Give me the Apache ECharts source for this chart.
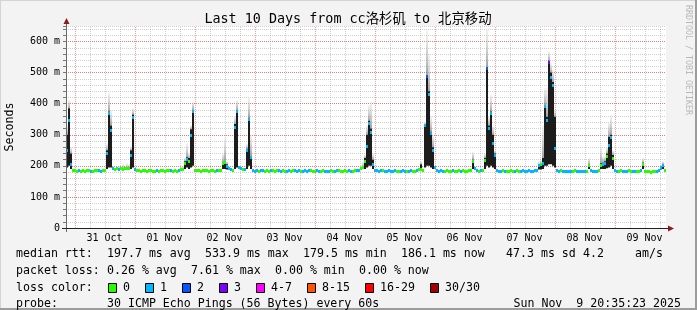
<!DOCTYPE html>
<html><head><meta charset="utf-8">
<script src="https://cdn.jsdelivr.net/npm/echarts@6/dist/echarts.min.js"></script>
<style>html,body{margin:0;padding:0;background:#f3f3f3}#c{width:697px;height:310px}</style>
</head><body><div id="c"></div>
<script>
// time axis: hours since 30 Oct 2025 00:00; window = last 10 days ending Sun Nov 9 20:35:23
const START_H = 20 + 35/60 + 23/3600;
const SPAN_H = 240;
const STEP_H = 0.8; // one sample every 48 minutes
const dayLabels = ['31 Oct','01 Nov','02 Nov','03 Nov','04 Nov','05 Nov','06 Nov','07 Nov','08 Nov','09 Nov'];
const yMax = 650;

// median rtt (ms), one value per sample
const median = [
250,348,205,188,186,185,187,184,186,185,
186,187,185,184,186,188,186,185,187,186,
240,370,316,192,191,193,190,192,191,193,
192,194,235,358,190,188,186,185,187,186,
185,186,187,185,184,186,185,187,186,185,
186,188,187,185,186,184,186,190,189,210,
222,215,300,375,188,187,186,185,186,187,
186,185,187,186,185,186,188,187,208,212,
200,192,190,188,326,376,195,192,190,191,
250,350,229,186,185,187,185,186,187,185,
186,184,186,187,185,186,187,185,186,184,
185,186,184,186,187,185,186,185,184,186,
185,187,186,184,185,186,185,184,186,185,
184,185,186,185,184,186,187,185,184,186,
185,186,184,185,187,186,188,192,197,215,
265,339,310,205,188,186,185,187,186,185,
184,186,185,184,186,185,184,185,186,184,
185,184,186,185,184,186,190,190,186,331,
489,431,305,250,195,186,185,186,184,185,
186,185,184,186,185,184,186,185,186,184,
185,186,187,215,192,186,185,187,186,219,
514,321,369,272,235,186,185,184,186,185,
184,185,186,184,185,186,184,185,186,184,
185,186,184,185,186,187,203,205,210,394,
347,535,487,460,256,186,185,186,184,185,
184,185,183,184,186,185,184,183,185,184,
185,203,186,185,184,185,186,203,205,210,
232,267,294,225,186,185,184,186,185,184,
185,186,184,185,183,184,185,186,205,185,
183,182,181,183,182,184,186,195,203,186
];
// loss colour class per sample (index into lossColors)
const loss = [
1,1,1,0,0,0,1,0,0,0, 0,0,1,0,0,0,1,1,0,0, 1,1,1,1,0,0,1,0,0,0, 0,0,1,1,1,0,0,0,0,0,
0,0,0,0,0,1,0,0,0,0, 0,0,1,0,0,0,1,0,0,0, 1,0,1,1,0,0,0,0,0,0, 0,0,0,0,0,1,0,0,0,0,
1,1,1,0,1,1,1,1,0,1, 1,1,1,1,1,1,0,1,1,0, 0,0,1,0,0,0,1,1,0,0, 1,1,0,0,1,1,1,0,1,1,
1,1,0,0,0,1,1,0,0,1, 1,1,0,0,1,1,0,0,0,0, 0,1,1,0,0,1,1,0,0,0, 1,1,1,1,1,1,1,1,0,1,
1,1,1,1,1,0,0,1,1,1, 0,1,1,0,0,1,0,0,0,1, 2,1,1,1,1,1,1,1,1,0, 0,0,0,1,0,0,0,1,0,0,
0,0,0,0,1,1,0,1,0,0, 2,1,1,1,1,1,1,1,0,1, 0,0,0,0,1,0,0,1,1,1, 1,1,1,1,1,1,1,0,1,1,
1,3,1,1,1,1,1,0,1,1, 1,1,1,0,0,1,1,1,1,1, 0,0,1,1,1,1,0,0,1,1, 0,1,1,0,1,1,0,0,1,1,
1,0,0,1,1,0,0,1,0,0, 0,0,0,0,0,1,1,1,1,0
];
// smoke: [sample index, dark low, dark high, light top] in ms
const smoke = [
[0,195,300,330],[1,200,385,412],[2,190,240,260],
[20,190,250,270],[21,195,375,435],[22,195,330,380],
[26,190,190,200],[28,192,192,205],[30,192,192,208],[31,194,194,205],
[32,190,250,262],[33,195,365,385],
[57,190,190,198],[58,189,189,200],
[59,190,215,225],[60,195,228,272],[61,190,225,240],[62,195,318,330],[63,200,380,406],
[78,190,212,240],[79,190,215,290],[80,188,205,215],
[84,190,335,360],[85,195,380,412],
[90,190,255,270],[91,200,355,418],[92,190,232,300],
[147,192,192,200],[148,190,197,212],
[149,190,225,235],[150,195,300,330],[151,200,345,395],[152,200,320,406],[153,190,220,240],
[177,188,205,215],
[179,195,331,340],[180,200,492,637],[181,200,440,560],[182,195,310,358],[183,190,260,300],
[203,190,220,245],
[209,190,225,240],[210,200,518,642],[211,195,330,360],[212,200,375,429],[213,195,300,330],[214,190,240,250],
[236,188,200,215],[237,188,205,219],[238,190,225,330],
[239,200,396,450],[240,200,358,450],[241,205,538,567],[242,205,500,530],[243,200,470,510],[244,195,358,380],
[261,190,205,225],
[267,190,208,260],[268,190,210,230],[269,190,215,230],[270,192,240,260],[271,195,294,340],[272,200,300,364],[273,190,235,250],
[288,190,210,225],
[297,188,195,205],[298,190,205,215]
];
const lossColors = ['#26ff00','#00b8ff','#0059ff','#7e00ff','#ff00ff','#ff5500','#ff0000','#a10000'];
const lossLabels = ['0','1','2','3','4-7','8-15','16-29','30/30'];
const statsRtt = ['197.7 ms avg','533.9 ms max','179.5 ms min','186.1 ms now','47.3 ms sd','4.2','am/s'];
const statsLoss = ['0.26 % avg','7.61 % max','0.00 % min','0.00 % now'];

const MONO = "'DejaVu Sans Mono', 'Noto Sans CJK SC', monospace";
const END_H = START_H + SPAN_H;
const dayNoons = dayLabels.map((d,k)=>36 + 24*k);
const vGrid = [];
for (let h = 24; h < END_H; h += 6) vGrid.push([h, h % 24 === 0 ? 1 : 0]);

const medData = median.map((v,i)=>[START_H + i*STEP_H, v, loss[i]]);
const smokeData = smoke.map(s=>[START_H + s[0]*STEP_H, s[1], s[2], s[3]]);

const chart = echarts.init(document.getElementById('c'), null, {renderer:'canvas'});

const graphics = [];
// frame
graphics.push({type:'line', shape:{x1:0,y1:0.5,x2:697,y2:0.5}, style:{stroke:'#d4d4d4',lineWidth:1}});
graphics.push({type:'line', shape:{x1:0.5,y1:0,x2:0.5,y2:310}, style:{stroke:'#d4d4d4',lineWidth:1}});
graphics.push({type:'line', shape:{x1:0,y1:309,x2:697,y2:309}, style:{stroke:'#9c9c9c',lineWidth:2}});
graphics.push({type:'line', shape:{x1:696,y1:0,x2:696,y2:310}, style:{stroke:'#9c9c9c',lineWidth:2}});
// title
graphics.push({type:'text', x:348, y:20, style:{text:'Last 10 Days from cc洛杉矶 to 北京移动', font:'13.4px '+MONO, fill:'#000', align:'center', verticalAlign:'middle'}});
// y name
graphics.push({type:'text', x:10, y:127, rotation:Math.PI/2, style:{text:'Seconds', font:'11.6px '+MONO, fill:'#000', align:'center', verticalAlign:'middle'}});
// watermark
graphics.push({type:'text', x:688, y:60, rotation:-Math.PI/2, style:{text:'RRDTOOL / TOBI OETIKER', font:'8.3px '+MONO, fill:'#b8b8b8', align:'center', verticalAlign:'middle'}});
// axes lines and arrows
graphics.push({type:'line', z:50, shape:{x1:66.5,y1:232,x2:66.5,y2:22}, style:{stroke:'#6a6a6a',lineWidth:1}});
graphics.push({type:'line', z:50, shape:{x1:62,y1:228.5,x2:670,y2:228.5}, style:{stroke:'#222',lineWidth:1}});
graphics.push({type:'polygon', z:51, shape:{points:[[63.5,24],[69.5,24],[66.5,18]]}, style:{fill:'#8b1c1c'}});
graphics.push({type:'polygon', z:51, shape:{points:[[668,225.5],[668,231.5],[674,228.5]]}, style:{fill:'#8b1c1c'}});
// legend text
const L = 16, R0 = 254, RH = 16.8;
const row = (y, s, x) => graphics.push({type:'text', x:x, y:y, style:{text:s, font:'11.6px '+MONO, fill:'#000', verticalAlign:'middle'}});
row(R0, 'median rtt:', L);
const rttX = [107, 205, 303, 401, 506, 583, 635];
statsRtt.forEach((s,k)=>row(R0, s, rttX[k]));
row(R0+RH, 'packet loss:', L);
const lossX = [107, 191, 275, 359];
statsLoss.forEach((s,k)=>row(R0+RH, s, lossX[k]));
row(R0+2*RH, 'loss color:', L);
const boxX = [108,145,182,219,256,307,365,430];
lossLabels.forEach((s,k)=>{
  graphics.push({type:'rect', shape:{x:boxX[k]+0.5, y:Math.round(R0+2*RH)-4.5, width:8, height:9}, style:{fill:lossColors[k], stroke:'#000', lineWidth:1}});
  row(R0+2*RH, s, boxX[k]+15);
});
row(R0+3*RH, 'probe:', L);
row(R0+3*RH, '30 ICMP Echo Pings (56 Bytes) every 60s', 107);
graphics.push({type:'text', x:681, y:R0+3*RH, style:{text:'Sun Nov  9 20:35:23 2025', font:'11.6px '+MONO, fill:'#000', align:'right', verticalAlign:'middle'}});

chart.setOption({
  backgroundColor:'#f3f3f3',
  animation:false,
  grid:{left:66, right:31, top:26, bottom:82, show:true, backgroundColor:'#ffffff', borderWidth:0},
  xAxis:{type:'value', min:START_H, max:END_H,
    axisLine:{show:false}, axisTick:{show:false}, splitLine:{show:false},
    axisLabel:{customValues:dayNoons, formatter:(v)=>dayLabels[Math.round((v-36)/24)] || '',
      fontFamily:MONO, fontSize:10, color:'#000', margin:5}},
  yAxis:[
    {type:'value', position:'left', min:0, max:yMax, interval:20, axisLine:{show:false},
      axisLabel:{show:false}, axisTick:{show:true, length:3, lineStyle:{color:'#777'}},
      splitLine:{show:true, lineStyle:{color:'rgba(120,120,120,0.35)', width:1, type:[1,1]}}},
    {type:'value', position:'left', min:0, max:yMax, interval:100, axisLine:{show:false}, axisTick:{show:false},
      axisLabel:{fontFamily:MONO, fontSize:10, color:'#000', margin:6, showMaxLabel:false,
        formatter:(v)=> v===0 ? '0' : v+' m'},
      splitLine:{show:true, showMaxLine:false, lineStyle:{color:'rgba(255,0,0,0.4)', width:1, type:[1,1]}}}
  ],
  series:[
    {type:'custom', name:'vgrid', z:1, silent:true, data:vGrid, encode:{x:0, y:1},
      renderItem:(params, api)=>{
        const x = Math.round(api.coord([api.value(0), 0])[0]) + 0.5;
        const yb = api.coord([START_H, 0])[1], yt = api.coord([START_H, yMax])[1];
        return {type:'line', shape:{x1:x, y1:yb, x2:x, y2:yt},
          style:{stroke: api.value(1) ? 'rgba(255,0,0,0.4)' : 'rgba(120,120,120,0.35)', lineWidth:1, lineDash:[1,1]}};
      }},
    {type:'custom', name:'smoke', z:3, silent:true, data:smokeData, encode:{x:0, y:[1,2,3]}, clip:true,
      renderItem:(params, api)=>{
        const t = api.value(0);
        const a = api.coord([t, api.value(1)]), b = api.coord([t, api.value(2)]), c = api.coord([t, api.value(3)]);
        const x2 = api.coord([t + STEP_H, 0])[0];
        const w = x2 - a[0];
        const children = [];
        if (c[1] < b[1]) children.push({type:'rect', shape:{x:a[0], y:c[1], width:w, height:b[1]-c[1]},
          style:{fill:new echarts.graphic.LinearGradient(0,0,0,1,[{offset:0,color:'rgba(225,225,225,0.4)'},{offset:1,color:'rgba(130,130,130,0.75)'}])}});
        if (b[1] < a[1]) children.push({type:'rect', shape:{x:a[0], y:b[1], width:w, height:a[1]-b[1]}, style:{fill:'#1c1c1c'}});
        return {type:'group', children};
      }},
    {type:'custom', name:'median', z:5, silent:true, data:medData, encode:{x:0, y:1}, clip:true,
      renderItem:(params, api)=>{
        const t = api.value(0);
        const p = api.coord([t, api.value(1)]);
        const x2 = api.coord([t + STEP_H, api.value(1)])[0];
        return {type:'rect', shape:{x:p[0], y:Math.round(p[1])-1, width:x2-p[0], height:3},
          style:{fill:lossColors[api.value(2)]}};
      }}
  ],
  graphic:graphics
});
</script></body></html>
